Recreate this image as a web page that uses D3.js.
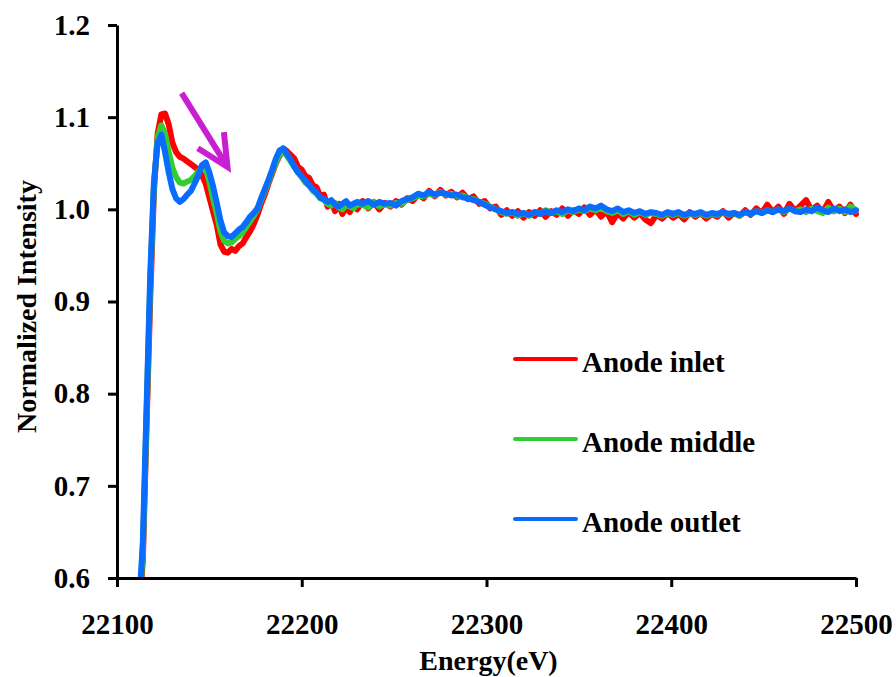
<!DOCTYPE html>
<html>
<head>
<meta charset="utf-8">
<script src="https://cdn.jsdelivr.net/npm/d3@7"></script>
<style>
  html, body { margin: 0; padding: 0; background: #fff; }
  svg { display: block; }
  text { font-family: "Liberation Serif", "Times New Roman", serif; font-weight: bold; fill: #000; }
</style>
</head>
<body>
<svg id="chart" width="896" height="677"></svg>
<script>
// Photon energy grid (eV)
const energy = [
  22112,22114,22116,22118,22120,22122,22124,22126,22128,22130,
  22132,22134,22136,22138,22140,22142,22144,22146,22148,22150,
  22152,22154,22156,22158,22160,22162,22164,22166,22168,22170,
  22172,22174,22176,22178,22180,22182,22184,22186,22188,22190,
  22192,22194,22196,22198,22200,22202,22204,22206,22208,22210,
  22212,22214,22216,22218,22220,22222,22224,22226,22228,22230,
  22233,22236,22239,22242,22245,22248,22251,22254,22257,22260,
  22263,22266,22269,22272,22275,22278,22281,22284,22287,22290,
  22293,22296,22299,22302,22305,22308,22311,22314,22317,22320,
  22323,22326,22329,22332,22335,22338,22341,22344,22347,22350,
  22353,22356,22359,22362,22365,22368,22371,22374,22377,22380,
  22383,22386,22389,22392,22395,22398,22401,22404,22407,22410,
  22413,22416,22419,22422,22425,22428,22431,22434,22437,22440,
  22443,22446,22449,22452,22455,22458,22461,22464,22467,22470,
  22473,22476,22479,22482,22485,22488,22491,22494,22497,22500
];

// Normalized intensity, anode inlet
const inlet = [
  0.56,0.62,0.765,0.905,1.02,1.082,1.103,1.104,1.092,1.072,
  1.062,1.057,1.055,1.052,1.049,1.046,1.043,1.037,1.028,1.013,
  0.998,0.983,0.962,0.954,0.953,0.957,0.955,0.960,0.963,0.970,
  0.976,0.984,0.994,1.006,1.016,1.028,1.039,1.050,1.058,1.066,
  1.063,1.059,1.055,1.046,1.043,1.036,1.034,1.026,1.024,1.014,
  1.016,1.003,1.008,0.998,1.006,0.995,1.003,0.997,1.005,1.000,
  1.009,1.001,1.008,1.000,1.007,1.003,1.009,1.005,1.012,1.009,
  1.016,1.012,1.020,1.014,1.021,1.015,1.019,1.013,1.018,1.011,
  1.014,1.006,1.009,1.001,1.003,0.994,0.999,0.993,0.998,0.991,
  0.997,0.993,0.999,0.992,0.998,0.994,1.001,0.993,0.999,0.995,
  1.002,0.994,1.000,0.992,0.998,0.986,0.996,0.990,0.997,0.991,
  0.996,0.989,0.985,0.994,0.990,0.996,0.991,0.995,0.989,0.997,
  0.992,0.996,0.990,0.995,0.992,0.998,0.991,0.996,0.993,0.999,
  0.994,1.001,0.996,1.005,0.997,1.003,0.995,1.006,0.998,1.004,
  1.010,0.999,1.004,0.997,1.008,0.998,1.003,0.996,1.005,0.995
];

// Normalized intensity, anode middle
const middle = [
  0.565,0.63,0.775,0.92,1.025,1.078,1.091,1.082,1.062,1.045,
  1.035,1.029,1.028,1.030,1.032,1.036,1.041,1.046,1.045,1.030,
  1.012,0.995,0.976,0.966,0.963,0.964,0.968,0.971,0.975,0.981,
  0.987,0.993,1.000,1.010,1.020,1.030,1.041,1.051,1.059,1.063,
  1.058,1.052,1.046,1.040,1.035,1.029,1.026,1.020,1.017,1.012,
  1.010,1.006,1.004,1.007,1.002,1.000,1.005,1.003,1.001,1.006,
  1.005,1.002,1.008,1.003,1.006,1.004,1.007,1.006,1.010,1.012,
  1.015,1.014,1.017,1.015,1.019,1.016,1.017,1.014,1.015,1.012,
  1.011,1.008,1.006,1.003,1.000,0.997,0.995,0.997,0.993,0.996,
  0.993,0.997,0.995,0.999,0.996,0.998,0.995,0.999,0.997,1.000,
  0.998,1.001,0.999,1.002,0.998,0.996,0.999,0.995,0.998,0.994,
  0.997,0.994,0.996,0.995,0.993,0.996,0.994,0.996,0.993,0.995,
  0.994,0.996,0.993,0.995,0.994,0.997,0.994,0.996,0.993,0.997,
  0.995,0.998,0.996,0.999,0.997,1.000,0.997,1.001,0.998,1.000,
  0.997,1.001,0.998,0.996,1.002,0.998,1.001,0.997,1.003,0.999
];

// Normalized intensity, anode outlet
const outlet = [
  0.57,0.64,0.785,0.93,1.03,1.072,1.081,1.062,1.040,1.022,
  1.012,1.008,1.011,1.016,1.020,1.028,1.037,1.048,1.051,1.040,
  1.025,1.007,0.988,0.975,0.971,0.970,0.974,0.978,0.981,0.986,
  0.992,0.996,1.001,1.012,1.022,1.032,1.043,1.055,1.064,1.066,
  1.060,1.054,1.046,1.040,1.036,1.031,1.026,1.022,1.018,1.013,
  1.011,1.008,1.010,1.005,1.003,1.006,1.009,1.004,1.006,1.008,
  1.006,1.009,1.005,1.008,1.006,1.007,1.004,1.009,1.011,1.013,
  1.017,1.015,1.019,1.016,1.018,1.017,1.015,1.016,1.013,1.012,
  1.010,1.008,1.005,1.002,1.000,0.998,0.996,0.997,0.995,0.996,
  0.994,0.997,0.995,0.998,0.996,0.999,0.997,1.000,0.998,1.001,
  0.999,1.003,1.001,1.004,1.000,0.998,1.001,0.997,0.999,0.996,
  0.998,0.995,0.997,0.996,0.994,0.997,0.995,0.997,0.994,0.996,
  0.995,0.997,0.994,0.996,0.995,0.997,0.995,0.996,0.994,0.997,
  0.995,0.998,0.996,0.999,0.997,1.000,0.998,1.001,0.998,0.997,
  1.000,0.998,1.002,0.999,0.997,1.001,0.998,1.000,0.997,0.999
];

const seriesNames = ["Anode inlet", "Anode middle", "Anode outlet"];
const seriesColors = ["#ff0000", "#33cc33", "#0a6cff"];
const xTicks = [22100, 22200, 22300, 22400, 22500];
const yTicks = [0.6, 0.7, 0.8, 0.9, 1.0, 1.1, 1.2];

// Arrow marking the drop of the pre-peak shoulder: [energy, intensity]
const arrowFrom = [22135.0, 1.126];
const arrowTo = [22159.8, 1.046];

const svg = d3.select("#chart");
const plot = { left: 117, right: 856, top: 25, bottom: 578 };

const x = d3.scaleLinear().domain([22100, 22500]).range([plot.left, plot.right]);
const y = d3.scaleLinear().domain([0.6, 1.2]).range([plot.bottom, plot.top]);

svg.append("defs").append("clipPath").attr("id", "plotClip")
  .append("rect")
  .attr("x", plot.left).attr("y", plot.top - 10)
  .attr("width", plot.right - plot.left + 4)
  .attr("height", plot.bottom - plot.top + 10);

// Spectra
const seriesValues = [inlet, middle, outlet];
const line = d3.line()
  .x((d, i) => x(energy[i]))
  .y(d => y(d));

const lines = svg.append("g").attr("clip-path", "url(#plotClip)");
seriesValues.forEach((vals, k) => {
  lines.append("path")
    .datum(vals)
    .attr("fill", "none")
    .attr("stroke", seriesColors[k])
    .attr("stroke-width", 6)
    .attr("stroke-linejoin", "round")
    .attr("stroke-linecap", "round")
    .attr("d", line);
});

// Axes
const xAxis = svg.append("g")
  .attr("transform", `translate(0,${plot.bottom})`)
  .call(d3.axisBottom(x).tickValues(xTicks).tickFormat(d3.format("d")).tickSize(9).tickSizeOuter(0).tickPadding(26));
const yAxis = svg.append("g")
  .attr("transform", `translate(${plot.left},0)`)
  .call(d3.axisLeft(y).tickValues(yTicks).tickFormat(d3.format(".1f")).tickSize(9).tickSizeOuter(0).tickPadding(18));

[xAxis, yAxis].forEach(g => {
  g.select(".domain").attr("stroke", "#000").attr("stroke-width", 3);
  g.selectAll(".tick line").attr("stroke", "#000").attr("stroke-width", 3);
  g.selectAll(".tick text")
    .attr("font-family", "Liberation Serif, Times New Roman, serif")
    .attr("font-weight", "bold")
    .attr("font-size", 29)
    .attr("fill", "#000");
});

// Axis titles
svg.append("text")
  .attr("x", (plot.left + plot.right) / 2 + 2)
  .attr("y", 670)
  .attr("text-anchor", "middle")
  .attr("font-size", 28)
  .text("Energy(eV)");

svg.append("text")
  .attr("transform", `translate(36,${(plot.top + plot.bottom) / 2 + 5}) rotate(-90)`)
  .attr("text-anchor", "middle")
  .attr("font-size", 28)
  .text("Normalized Intensity");

// Legend
const legendY = [359, 439, 519];
const legend = svg.append("g");
seriesNames.forEach((name, k) => {
  legend.append("line")
    .attr("x1", 515).attr("x2", 576)
    .attr("y1", legendY[k]).attr("y2", legendY[k])
    .attr("stroke", seriesColors[k])
    .attr("stroke-width", 4)
    .attr("stroke-linecap", "round");
  legend.append("text")
    .attr("x", 582)
    .attr("y", legendY[k] + 13)
    .attr("font-size", 29)
    .text(name);
});

// Arrow annotation
const ax0 = x(arrowFrom[0]), ay0 = y(arrowFrom[1]);
const ax1 = x(arrowTo[0]), ay1 = y(arrowTo[1]);
const ang = Math.atan2(ay1 - ay0, ax1 - ax0);
const headLen = 35, headAng = 26 * Math.PI / 180;
const arrowColor = "#c81fd0";
svg.append("line")
  .attr("x1", ax0).attr("y1", ay0).attr("x2", ax1).attr("y2", ay1)
  .attr("stroke", arrowColor).attr("stroke-width", 6);
svg.append("polyline")
  .attr("points", [
    [ax1 - headLen * Math.cos(ang - headAng), ay1 - headLen * Math.sin(ang - headAng)],
    [ax1, ay1],
    [ax1 - headLen * Math.cos(ang + headAng), ay1 - headLen * Math.sin(ang + headAng)]
  ].map(p => p.join(",")).join(" "))
  .attr("fill", "none")
  .attr("stroke", arrowColor)
  .attr("stroke-width", 6)
  .attr("stroke-linejoin", "miter");
</script>
</body>
</html>
